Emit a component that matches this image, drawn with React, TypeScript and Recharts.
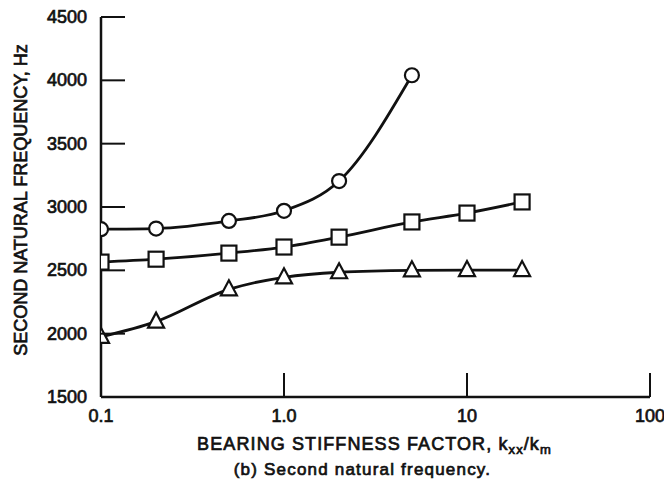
import { LineChart, Line, XAxis, YAxis, Label } from "recharts";

// bearing stiffness factor kxx/km (log axis)
const stiffness = [0.1, 0.2, 0.5, 1.0, 2.0, 5.0, 10, 20];
// second natural frequency, Hz
const circleHz = [2825, 2830, 2890, 2970, 3205, 4040];
const squareHz = [2565, 2588, 2636, 2684, 2762, 2882, 2952, 3040];
const triangleHz = [1975, 2095, 2350, 2445, 2485, 2500, 2502, 2502];

const xTicks = [0.1, 1, 10, 100];
const xTickLabels = ["0.1", "1.0", "10", "100"];
const yTicks = [1500, 2000, 2500, 3000, 3500, 4000, 4500];

const rows = stiffness.map((k, i) => ({
  k,
  circle: circleHz[i],
  square: squareHz[i],
  triangle: triangleHz[i],
}));

const FONT = "'Liberation Sans', Arial, Helvetica, sans-serif";
const INK = "#111";
const TICK_LEN = 24;
const Y_TICK_MARGIN = 14;

const textStyle = {
  fontFamily: FONT,
  fontSize: 18,
  fill: INK,
  stroke: INK,
  strokeWidth: 0.7,
};

function YTick(props: any) {
  const { x, y, payload } = props;
  const axisX = x + Y_TICK_MARGIN;
  return (
    <g>
      <line x1={axisX} x2={axisX + TICK_LEN} y1={y} y2={y} stroke={INK} strokeWidth={2} />
      <text x={x} y={y + 6} textAnchor="end" style={textStyle}>
        {payload.value}
      </text>
    </g>
  );
}

function XTick(props: any) {
  const { x, y, payload, index } = props;
  return (
    <g>
      <line x1={x} x2={x} y1={y} y2={y - TICK_LEN} stroke={INK} strokeWidth={2} />
      <text x={x} y={y + 25} textAnchor="middle" style={textStyle}>
        {xTickLabels[index] ?? payload.value}
      </text>
    </g>
  );
}

function XTitle(props: any) {
  const { x, y, width } = props.viewBox;
  const cx = x + width / 2;
  return (
    <g>
      <text x={cx - 1} y={y + 53} textAnchor="middle" style={{ ...textStyle, letterSpacing: 1.1 }}>
        BEARING STIFFNESS FACTOR, k
        <tspan dy={4} fontSize={13}>xx</tspan>
        <tspan dy={-4}>/k</tspan>
        <tspan dy={4} fontSize={13}>m</tspan>
      </text>
      <text
        x={cx - 13}
        y={y + 78}
        textAnchor="middle"
        style={{ ...textStyle, fontSize: 17, letterSpacing: 1.2 }}
      >
        (b) Second natural frequency.
      </text>
    </g>
  );
}

function YTitle() {
  return (
    <text
      transform="translate(27, 200) rotate(-90)"
      textAnchor="middle"
      style={textStyle}
    >
      SECOND NATURAL FREQUENCY, Hz
    </text>
  );
}

function SquareDot(props: any) {
  const { cx, cy, index } = props;
  if (cx == null || cy == null) return <g key={`s${index}`} />;
  return (
    <rect
      key={`s${index}`}
      x={cx - 7.5}
      y={cy - 7.5}
      width={15}
      height={15}
      fill="#fff"
      stroke={INK}
      strokeWidth={2.2}
    />
  );
}

function TriangleDot(props: any) {
  const { cx, cy, index } = props;
  if (cx == null || cy == null) return <g key={`t${index}`} />;
  const pts = `${cx},${cy - 9} ${cx - 8},${cy + 6} ${cx + 8},${cy + 6}`;
  return (
    <polygon
      key={`t${index}`}
      points={pts}
      fill="#fff"
      stroke={INK}
      strokeWidth={2.2}
      strokeLinejoin="miter"
    />
  );
}

export default function App() {
  return (
    <div style={{ position: "absolute", left: 0, top: 0, width: 664, height: 487, background: "#fff" }}>
      <LineChart
        width={664}
        height={487}
        data={rows}
        margin={{ top: 17, right: 14, bottom: 60, left: 41 }}
      >
        <XAxis
          dataKey="k"
          type="number"
          scale="log"
          domain={[0.1, 100]}
          ticks={xTicks}
          allowDataOverflow
          height={30}
          tickSize={0}
          tickMargin={0}
          tickLine={false}
          axisLine={{ stroke: INK, strokeWidth: 2.5 }}
          tick={<XTick />}
          interval={0}
        >
          <Label content={<XTitle />} />
        </XAxis>
        <YAxis
          type="number"
          domain={[1500, 4500]}
          ticks={yTicks}
          width={60}
          tickSize={0}
          tickMargin={Y_TICK_MARGIN}
          tickLine={false}
          axisLine={{ stroke: INK, strokeWidth: 2.5 }}
          tick={<YTick />}
          interval={0}
        >
          <Label content={<YTitle />} />
        </YAxis>
        <Line
          dataKey="circle"
          type="monotone"
          stroke={INK}
          strokeWidth={2.8}
          dot={{ r: 7, fill: "#fff", stroke: INK, strokeWidth: 2.2 }}
          isAnimationActive={false}
        />
        <Line
          dataKey="square"
          type="monotone"
          stroke={INK}
          strokeWidth={2.8}
          dot={(p: any) => <SquareDot {...p} key={`sq${p.index}`} />}
          isAnimationActive={false}
        />
        <Line
          dataKey="triangle"
          type="monotone"
          stroke={INK}
          strokeWidth={2.8}
          dot={(p: any) => <TriangleDot {...p} key={`tr${p.index}`} />}
          isAnimationActive={false}
        />
      </LineChart>
    </div>
  );
}
